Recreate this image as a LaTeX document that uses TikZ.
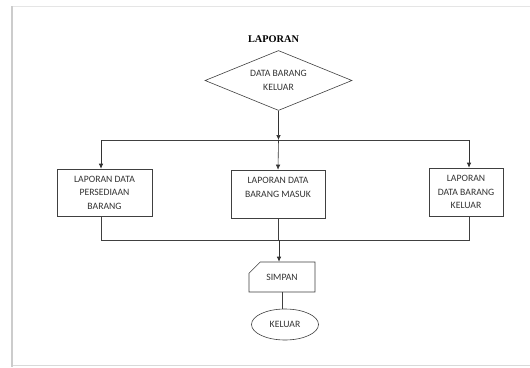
\documentclass[tikz,border=0pt]{standalone}
\usepackage{fontspec}
\setmainfont{Carlito}
\newfontfamily\titlefont{Liberation Serif}
\usepackage{tikz}
\usetikzlibrary{shapes.geometric, shapes.misc, arrows.meta, positioning}
\tikzstyle{arrow} = [semithick, ->, >={Latex[length=5pt,width=4.5pt]}, black!80]
\tikzstyle{line} = [semithick, black!75]
\tikzstyle{lapbox} = [rectangle, draw=black!75, semithick, fill=white, inner sep=0pt,
                      text centered, align=center, font=\fontsize{9.7}{13.5}\selectfont, text=black!80]
\tikzstyle{keputusan} = [diamond, draw=black!75, semithick, fill=white, inner sep=0pt, aspect=2.45,
                         minimum width=147pt, minimum height=60pt, align=center,
                         font=\fontsize{9.7}{14}\selectfont, text=black!80]

\begin{document}
\begin{tikzpicture}[x=1pt, y=1pt]
    \useasboundingbox (0,0) rectangle (530,-367);
    % Page edge
    \fill[white] (12,-6) rectangle (530,-365);
    \draw[gray!20, line width=0.8pt] (12,-6) -- (530,-6);
    \draw[gray!30, line width=0.8pt] (12,-365) -- (530,-365);
    \draw[gray!40, line width=2.5pt] (12,-6) -- (12,-367);

    % Title and decision
    \node[keputusan] (dbk) at (278.5,-80.5) {DATA BARANG\\KELUAR};
    \node[font=\titlefont\bfseries\fontsize{10.3}{12}\selectfont, xshift=-5pt, above=4pt of dbk] (judul) {LAPORAN};

    % Report boxes
    \node[lapbox, minimum width=95pt, minimum height=47pt] (lpd) at (104.5,-192.5) {LAPORAN DATA\\PERSEDIAAN\\BARANG};
    \node[lapbox, minimum width=94pt, minimum height=48pt] (lpm) at (278,-194) {LAPORAN DATA\\BARANG MASUK\\\mbox{}};
    \node[lapbox, minimum width=74pt, minimum height=48pt] (lpk) at (466,-192) {LAPORAN\\DATA BARANG\\KELUAR};

    % Save and end
    \node[chamfered rectangle, chamfered rectangle corners=north west, chamfered rectangle xsep=8pt,
          chamfered rectangle ysep=8pt, draw=black!75, semithick, inner sep=0pt, minimum width=66pt,
          minimum height=30pt, font=\fontsize{9.7}{12}\selectfont, text=black!80] (smp) at (282,-277) {SIMPAN};
    \node[ellipse, draw=black!75, semithick, inner sep=0pt, minimum width=67pt, minimum height=31pt,
          font=\fontsize{9.7}{12}\selectfont, text=black!80] (kel) at (285,-324.5) {KELUAR};

    % Junctions
    \coordinate (jt) at (278.5,-140);
    \coordinate (jl) at (101,-140);
    \coordinate (jr) at (469,-140);
    \coordinate (bl) at (101,-240);
    \coordinate (bm) at (279,-240);
    \coordinate (br) at (469,-240);

    % Arrows
    \draw[arrow] (dbk.south) -- (jt);
    \draw[line] (jl) -- (jr);
    \draw[arrow] (jl) -- (jl |- lpd.north);
    \draw[arrow] (jt) -- (lpm.north);
    \draw[arrow] (jr) -- (jr |- lpk.north);
    \draw[line] (jl |- lpd.south) -- (bl) -- (br) -- (jr |- lpk.south);
    \draw[line] (lpm.south) -- (lpm.south |- bm);
    \draw[arrow] (bm) -- (bm |- smp.north);
    \draw[line] (smp.south) -- (smp.south |- kel.north);
\end{tikzpicture}
\end{document}
